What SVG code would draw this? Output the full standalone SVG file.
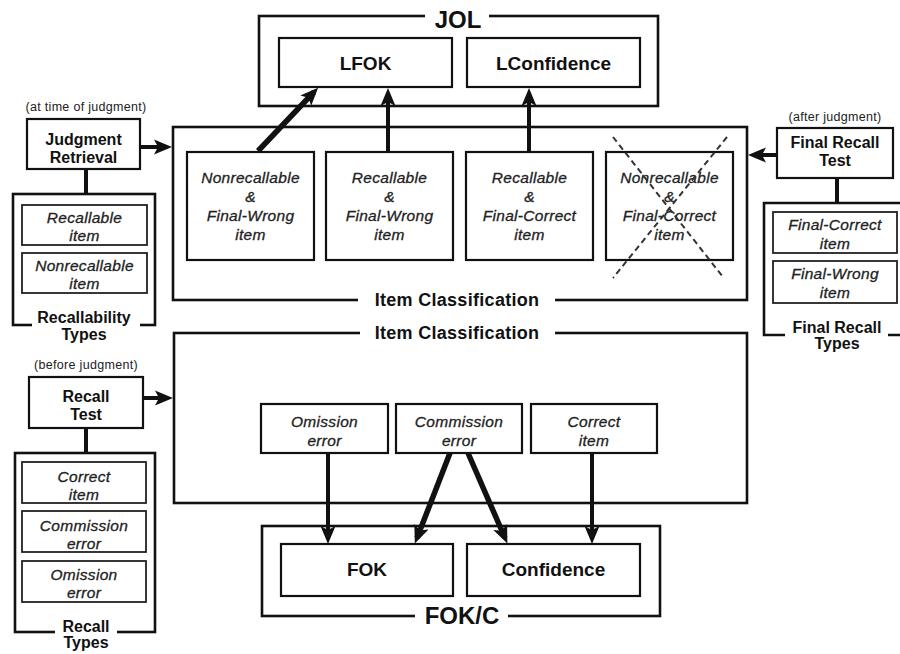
<svg xmlns="http://www.w3.org/2000/svg" width="900" height="654" viewBox="0 0 900 654">
  <defs>
    <marker id="head" markerUnits="userSpaceOnUse" markerWidth="19" markerHeight="16" viewBox="0 0 19 16" refX="12" refY="8" orient="auto">
      <path d="M0,0.5 L18,8 L0,15.5 L4,8 z" fill="#111"/>
    </marker>
    <style>
      .frame { fill: none; stroke: #111; stroke-width: 2.6; }
      .box { fill: #fff; stroke: #111; stroke-width: 2.2; }
      .sub { fill: #fff; stroke: #222; stroke-width: 1.8; }
      .gap { fill: #fff; stroke: none; }
      .title { font-family: "Liberation Sans", Arial, sans-serif; font-weight: bold; font-size: 24px; fill: #111; text-anchor: middle; }
      .head { font-family: "Liberation Sans", Arial, sans-serif; font-weight: bold; font-size: 18px; fill: #111; text-anchor: middle; letter-spacing: 0.3px; }
      .label { font-family: "Liberation Sans", Arial, sans-serif; font-weight: bold; font-size: 16px; fill: #111; text-anchor: middle; }
      .big { font-family: "Liberation Sans", Arial, sans-serif; font-weight: bold; font-size: 19px; fill: #111; text-anchor: middle; }
      .item { font-family: "Liberation Sans", Arial, sans-serif; font-style: italic; font-size: 15.5px; fill: #222; stroke: #222; stroke-width: 0.3; text-anchor: middle; letter-spacing: 0.3px; }
      .note { font-family: "Liberation Sans", Arial, sans-serif; font-size: 12.5px; fill: #222; text-anchor: middle; letter-spacing: 0.3px; }
      .link { stroke: #111; stroke-width: 4; fill: none; }
      .thick { stroke: #111; stroke-width: 5.5; fill: none; }
      .cross { stroke: #333; stroke-width: 2; stroke-dasharray: 6 4; fill: none; }
    </style>
  </defs>

  <!-- JOL frame with its two judgments -->
  <g id="jol">
    <rect class="frame" x="259" y="16" width="399" height="90"/>
    <rect class="gap" x="425" y="8" width="64" height="20"/>
    <text class="title" x="458" y="28">JOL</text>
  </g>
  <g id="lfok">
    <rect class="box" x="279" y="38" width="173" height="49"/>
    <text class="big" x="365.5" y="70">LFOK</text>
  </g>
  <g id="lconfidence">
    <rect class="box" x="467" y="38" width="173" height="49"/>
    <text class="big" x="553.5" y="70">LConfidence</text>
  </g>

  <!-- upper item classification -->
  <g id="item-classification-upper">
    <rect class="frame" x="173" y="127" width="574" height="173"/>
    <rect class="gap" x="358" y="290" width="197" height="20"/>
    <text class="head" x="457" y="306">Item Classification</text>
  </g>
  <g id="nonrecallable-final-wrong">
    <rect class="box" x="187" y="152" width="127" height="108"/>
    <text class="item" x="250.5" y="183">Nonrecallable</text>
    <text class="item" x="250.5" y="202">&amp;</text>
    <text class="item" x="250.5" y="221">Final-Wrong</text>
    <text class="item" x="250.5" y="240">item</text>
  </g>
  <g id="recallable-final-wrong">
    <rect class="box" x="326" y="152" width="127" height="108"/>
    <text class="item" x="389.5" y="183">Recallable</text>
    <text class="item" x="389.5" y="202">&amp;</text>
    <text class="item" x="389.5" y="221">Final-Wrong</text>
    <text class="item" x="389.5" y="240">item</text>
  </g>
  <g id="recallable-final-correct">
    <rect class="box" x="466" y="152" width="127" height="108"/>
    <text class="item" x="529.5" y="183">Recallable</text>
    <text class="item" x="529.5" y="202">&amp;</text>
    <text class="item" x="529.5" y="221">Final-Correct</text>
    <text class="item" x="529.5" y="240">item</text>
  </g>
  <g id="nonrecallable-final-correct">
    <rect class="box" x="606" y="152" width="127" height="108"/>
    <text class="item" x="669.5" y="183">Nonrecallable</text>
    <text class="item" x="669.5" y="202">&amp;</text>
    <text class="item" x="669.5" y="221">Final-Correct</text>
    <text class="item" x="669.5" y="240">item</text>
    <line class="cross" x1="613" y1="137" x2="723" y2="277"/>
    <line class="cross" x1="727" y1="137" x2="613" y2="278"/>
  </g>

  <!-- judgment retrieval and recallability types -->
  <g id="judgment-retrieval">
    <text class="note" x="86" y="111">(at time of judgment)</text>
    <rect class="box" x="27" y="119" width="113" height="50" stroke-width="2.6"/>
    <text class="label" x="83.5" y="145">Judgment</text>
    <text class="label" x="83.5" y="163">Retrieval</text>
  </g>
  <g id="recallability-types">
    <rect class="frame" x="13" y="194" width="142" height="131"/>
    <rect class="gap" x="32" y="315" width="108" height="14"/>
    <text class="label" x="84" y="323">Recallability</text>
    <text class="label" x="84" y="340">Types</text>
    <rect class="sub" x="22" y="205" width="125" height="40"/>
    <text class="item" x="84.5" y="223">Recallable</text>
    <text class="item" x="84.5" y="241">item</text>
    <rect class="sub" x="22" y="253" width="125" height="40"/>
    <text class="item" x="84.5" y="271">Nonrecallable</text>
    <text class="item" x="84.5" y="289">item</text>
  </g>

  <!-- recall test and recall types -->
  <g id="recall-test">
    <text class="note" x="86" y="369">(before judgment)</text>
    <rect class="box" x="29" y="377" width="114" height="51" stroke-width="2.6"/>
    <text class="label" x="86" y="402">Recall</text>
    <text class="label" x="86" y="420">Test</text>
  </g>
  <g id="recall-types">
    <rect class="frame" x="15" y="453" width="140" height="179"/>
    <rect class="gap" x="55" y="622" width="62" height="14"/>
    <text class="label" x="86" y="632">Recall</text>
    <text class="label" x="86" y="648">Types</text>
    <rect class="sub" x="22" y="462" width="124" height="41"/>
    <text class="item" x="84" y="482">Correct</text>
    <text class="item" x="84" y="500">item</text>
    <rect class="sub" x="22" y="511" width="124" height="41"/>
    <text class="item" x="84" y="531">Commission</text>
    <text class="item" x="84" y="549">error</text>
    <rect class="sub" x="22" y="561" width="124" height="41"/>
    <text class="item" x="84" y="580">Omission</text>
    <text class="item" x="84" y="598">error</text>
  </g>

  <!-- final recall test and final recall types -->
  <g id="final-recall-test">
    <text class="note" x="835" y="121">(after judgment)</text>
    <rect class="box" x="777" y="128" width="116" height="50" stroke-width="2.6"/>
    <text class="label" x="835" y="148">Final Recall</text>
    <text class="label" x="835" y="166">Test</text>
  </g>
  <g id="final-recall-types">
    <path class="frame" d="M905,203 H764 V335 H785 M888,335 H905"/>
    <text class="label" x="837" y="333">Final Recall</text>
    <text class="label" x="837" y="349">Types</text>
    <rect class="sub" x="773" y="212" width="124" height="41"/>
    <text class="item" x="835" y="230">Final-Correct</text>
    <text class="item" x="835" y="249">item</text>
    <rect class="sub" x="773" y="261" width="124" height="42"/>
    <text class="item" x="835" y="279">Final-Wrong</text>
    <text class="item" x="835" y="298">item</text>
  </g>

  <!-- lower item classification -->
  <g id="item-classification-lower">
    <rect class="frame" x="174" y="333" width="573" height="170"/>
    <rect class="gap" x="360" y="323" width="195" height="20"/>
    <text class="head" x="457" y="339">Item Classification</text>
  </g>
  <g id="omission-error">
    <rect class="box" x="261" y="404" width="127" height="49"/>
    <text class="item" x="324.5" y="427">Omission</text>
    <text class="item" x="324.5" y="446">error</text>
  </g>
  <g id="commission-error">
    <rect class="box" x="396" y="404" width="126" height="49"/>
    <text class="item" x="459" y="427">Commission</text>
    <text class="item" x="459" y="446">error</text>
  </g>
  <g id="correct-item">
    <rect class="box" x="531" y="404" width="126" height="49"/>
    <text class="item" x="594" y="427">Correct</text>
    <text class="item" x="594" y="446">item</text>
  </g>

  <!-- FOK/C frame with its two judgments -->
  <g id="fokc">
    <rect class="frame" x="262" y="526" width="398" height="90"/>
    <rect class="gap" x="415" y="606" width="93" height="22"/>
    <text class="title" x="462" y="624">FOK/C</text>
  </g>
  <g id="fok">
    <rect class="box" x="281" y="544" width="172" height="52"/>
    <text class="big" x="367" y="576">FOK</text>
  </g>
  <g id="confidence">
    <rect class="box" x="467" y="544" width="173" height="52"/>
    <text class="big" x="553.5" y="576">Confidence</text>
  </g>

  <!-- connectors -->
  <g id="connectors">
    <line class="link" x1="86" y1="169" x2="86" y2="194"/>
    <line class="link" x1="86" y1="428" x2="86" y2="453"/>
    <line class="link" x1="837" y1="178" x2="837" y2="203"/>
    <line class="link" x1="140" y1="147" x2="166" y2="147" marker-end="url(#head)"/>
    <line class="link" x1="143" y1="398" x2="167" y2="398" marker-end="url(#head)"/>
    <line class="link" x1="777" y1="155" x2="754" y2="155" marker-end="url(#head)"/>
    <line class="thick" x1="258" y1="151" x2="314" y2="92" marker-end="url(#head)"/>
    <line class="link" x1="388" y1="152" x2="388" y2="94" marker-end="url(#head)"/>
    <line class="link" x1="529" y1="152" x2="529" y2="94" marker-end="url(#head)"/>
    <line class="link" x1="328" y1="453" x2="328" y2="538" marker-end="url(#head)"/>
    <line class="thick" x1="450" y1="453" x2="417" y2="538" marker-end="url(#head)"/>
    <line class="thick" x1="468" y1="453" x2="505" y2="538" marker-end="url(#head)"/>
    <line class="link" x1="592" y1="453" x2="592" y2="538" marker-end="url(#head)"/>
  </g>
</svg>
